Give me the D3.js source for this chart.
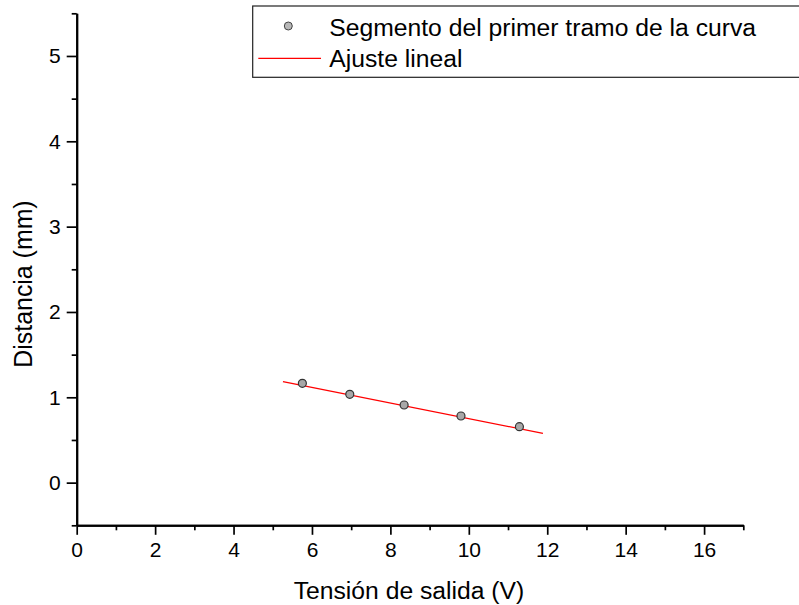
<!DOCTYPE html>
<html>
<head>
<meta charset="utf-8">
<script src="https://cdn.jsdelivr.net/npm/d3@7"></script>
<style>
  html, body { margin: 0; padding: 0; background: #fff; overflow: hidden; }
  svg { display: block; font-family: "Liberation Sans", Arial, sans-serif; }
</style>
</head>
<body>
<svg id="chart" width="799" height="605"></svg>
<script>
// Measured points: output voltage (V) vs distance (mm)
const voltage = [5.755, 6.964, 8.35, 9.80, 11.29];
const distance = [1.164, 1.035, 0.910, 0.781, 0.656];

// Linear fit y = intercept + slope * x, drawn over fitRange
const fitIntercept = 1.663;
const fitSlope = -0.0913;
const fitRange = [5.26, 11.89];

const xTicks = [0, 2, 4, 6, 8, 10, 12, 14, 16];
const xMinorTicks = [1, 3, 5, 7, 9, 11, 13, 15, 17];
const yTicks = [0, 1, 2, 3, 4, 5];
const yMinorTicks = [-0.5, 0.5, 1.5, 2.5, 3.5, 4.5, 5.5];

const legendLabels = ["Segmento del primer tramo de la curva", "Ajuste lineal"];
const xTitle = "Tensión de salida (V)";
const yTitle = "Distancia (mm)";

const svg = d3.select("#chart");
const plot = { left: 76.7, right: 743.3, top: 13.3, bottom: 525.3 };

const x = d3.scaleLinear().domain([0, 17]).range([plot.left, plot.right]);
const y = d3.scaleLinear().domain([-0.5, 5.5]).range([plot.bottom, plot.top]);
const fmt = d3.format("d");

// Bottom axis
const xAxis = svg.append("g").attr("transform", `translate(0,${plot.bottom})`);
xAxis.call(d3.axisBottom(x).tickValues(xTicks).tickFormat(fmt).tickSize(9.5).tickPadding(7.5).tickSizeOuter(0));
xAxis.append("g").call(d3.axisBottom(x).tickValues(xMinorTicks).tickSize(5).tickFormat("").tickSizeOuter(0));

// Left axis
const yAxis = svg.append("g").attr("transform", `translate(${plot.left},0)`);
yAxis.call(d3.axisLeft(y).tickValues(yTicks).tickFormat(fmt).tickSize(10).tickPadding(6).tickSizeOuter(0));
yAxis.append("g").call(d3.axisLeft(y).tickValues(yMinorTicks).tickSize(5).tickFormat("").tickSizeOuter(0));

svg.selectAll(".domain").attr("stroke", "#000").attr("stroke-width", 2);
svg.selectAll(".tick line").attr("stroke", "#000").attr("stroke-width", 1.7);
svg.selectAll(".tick text")
  .attr("font-family", "Liberation Sans, Arial, sans-serif")
  .attr("font-size", 21)
  .attr("fill", "#000");

// Axis titles
svg.append("text")
  .attr("x", 409).attr("y", 599)
  .attr("text-anchor", "middle")
  .attr("font-size", 24.7)
  .text(xTitle);

svg.append("text")
  .attr("transform", "translate(31.5,284) rotate(-90)")
  .attr("text-anchor", "middle")
  .attr("font-size", 24.9)
  .text(yTitle);

// Fit line
const line = d3.line().x(d => x(d)).y(d => y(fitIntercept + fitSlope * d));
svg.append("path")
  .datum(fitRange)
  .attr("d", line)
  .attr("fill", "none")
  .attr("stroke", "#ff0000")
  .attr("stroke-width", 1.3);

// Data points
svg.append("g").selectAll("circle")
  .data(voltage.map((v, i) => [v, distance[i]]))
  .join("circle")
  .attr("cx", d => x(d[0]))
  .attr("cy", d => y(d[1]))
  .attr("r", 4)
  .attr("fill", "#a8a8a8")
  .attr("stroke", "#333")
  .attr("stroke-width", 1.2);

// Legend (box runs past the right edge)
const lg = svg.append("g");
lg.append("rect")
  .attr("x", 252.7).attr("y", 6)
  .attr("width", 570).attr("height", 71.3)
  .attr("fill", "#fff")
  .attr("stroke", "#222")
  .attr("stroke-width", 1.2);
lg.append("circle")
  .attr("cx", 288.3).attr("cy", 26).attr("r", 4)
  .attr("fill", "#b8b8b8").attr("stroke", "#444").attr("stroke-width", 1);
lg.append("line")
  .attr("x1", 258.3).attr("x2", 321).attr("y1", 58.3).attr("y2", 58.3)
  .attr("stroke", "#ff0000").attr("stroke-width", 1.3);
lg.selectAll("text")
  .data(legendLabels)
  .join("text")
  .attr("x", 329.3)
  .attr("y", (d, i) => 36 + i * 30.5)
  .attr("font-size", 24.7)
  .text(d => d);
</script>
</body>
</html>
